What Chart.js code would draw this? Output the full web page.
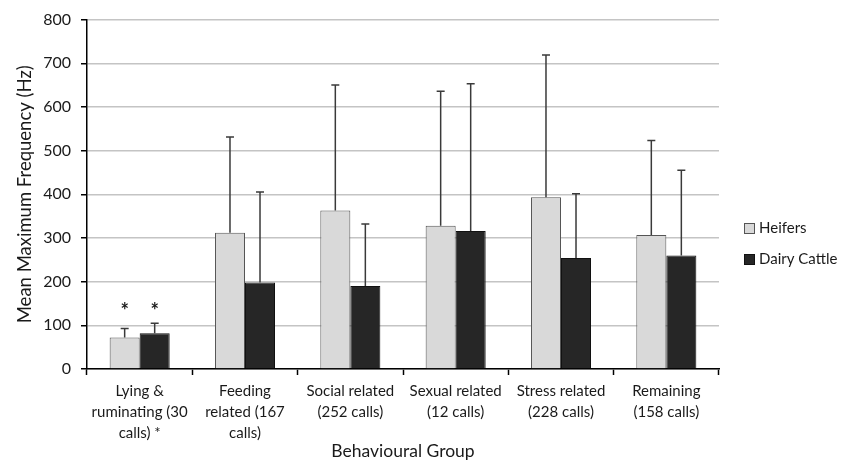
<!DOCTYPE html>
<html>
<head>
<meta charset="utf-8">
<script src="https://cdn.jsdelivr.net/npm/chart.js@4"></script>
<style>
  html, body { margin: 0; padding: 0; background: #fff; }
  #wrap { width: 850px; height: 466px; }
</style>
</head>
<body>
<div id="wrap"><canvas id="chart" width="850" height="466"></canvas></div>
<script>
// categories (multi-line labels as in the figure)
var groups = [
    ['Lying &', 'ruminating (30', 'calls) *'],
    ['Feeding', 'related (167', 'calls)'],
    ['Social related', '(252 calls)'],
    ['Sexual related', '(12 calls)'],
    ['Stress related', '(228 calls)'],
    ['Remaining', '(158 calls)']
];
// mean max frequency (Hz)
var heifers = [72, 312, 363, 328, 393, 307];
var dairyCattle = [82, 198, 190, 316, 254, 260];
// top of the error bars (mean + SD)
var heifersErrTop = [93, 531, 650, 636, 719, 523];
var dairyErrTop = [105, 405, 332, 653, 401, 455];
// significance markers above the bars
var heifersMark = ['*', '', '', '', '', ''];
var dairyMark = ['*', '', '', '', '', ''];
var markValue = 140;

var fontName = 'Lato, "Open Sans", sans-serif';
var textColor = '#1a1a1a';

var errorBars = {
    id: 'errorBars',
    afterDatasetsDraw: function (chart) {
        var ctx = chart.ctx;
        var y = chart.scales.y;
        var tops = [heifersErrTop, dairyErrTop];
        var marks = [heifersMark, dairyMark];
        ctx.save();
        chart.data.datasets.forEach(function (ds, i) {
            var meta = chart.getDatasetMeta(i);
            meta.data.forEach(function (bar, j) {
                var yt = y.getPixelForValue(tops[i][j]);
                ctx.strokeStyle = '#3a3a3a';
                ctx.lineWidth = 1.5;
                ctx.beginPath();
                ctx.moveTo(bar.x, bar.y);
                ctx.lineTo(bar.x, yt);
                ctx.moveTo(bar.x - 4, yt);
                ctx.lineTo(bar.x + 4, yt);
                ctx.stroke();
                if (marks[i][j]) {
                    ctx.fillStyle = textColor;
                    ctx.font = 'bold 20px ' + fontName;
                    ctx.textAlign = 'center';
                    ctx.textBaseline = 'middle';
                    ctx.fillText(marks[i][j], bar.x, y.getPixelForValue(markValue) + 4);
                }
            });
        });
        ctx.restore();
    }
};

// legend drawn by hand so it sits where the original has it
var sideLegend = {
    id: 'sideLegend',
    afterDraw: function (chart) {
        var ctx = chart.ctx;
        var x = chart.chartArea.right + 25;
        var ys = [228, 259];
        ctx.save();
        chart.data.datasets.forEach(function (ds, i) {
            ctx.fillStyle = ds.backgroundColor;
            ctx.fillRect(x, ys[i] - 5, 10, 10);
            ctx.strokeStyle = ds.borderColor;
            ctx.lineWidth = 1;
            ctx.strokeRect(x + 0.5, ys[i] - 4.5, 10, 10);
            ctx.fillStyle = textColor;
            ctx.font = '15px ' + fontName;
            ctx.textAlign = 'left';
            ctx.textBaseline = 'middle';
            ctx.fillText(ds.label, x + 15, ys[i]);
        });
        ctx.restore();
    }
};

var ctx = document.getElementById('chart').getContext('2d');
var chart = new Chart(ctx, {
    type: 'bar',
    data: {
        labels: groups,
        datasets: [{
            label: 'Heifers',
            data: heifers,
            backgroundColor: '#d9d9d9',
            borderColor: '#555',
            borderWidth: 1
        }, {
            label: 'Dairy Cattle',
            data: dairyCattle,
            backgroundColor: '#262626',
            borderColor: '#111',
            borderWidth: 1
        }]
    },
    options: {
        responsive: false,
        animation: false,
        layout: { padding: { top: 17, right: 131, left: 0, bottom: 0 } },
        datasets: {
            bar: { categoryPercentage: 0.57, barPercentage: 1.0 }
        },
        plugins: {
            legend: { display: false },
            tooltip: { enabled: false }
        },
        scales: {
            x: {
                afterFit: function (scale) { scale.height = 97; },
                grid: {
                    drawOnChartArea: false,
                    tickLength: 6,
                    tickColor: '#000',
                    tickWidth: 1.5
                },
                border: { color: '#000', width: 1.5 },
                ticks: {
                    color: textColor,
                    padding: 6,
                    maxRotation: 0,
                    autoSkip: false,
                    font: { family: fontName, size: 15, lineHeight: 1.4 }
                },
                title: {
                    display: true,
                    text: 'Behavioural Group',
                    color: textColor,
                    padding: { top: 4, bottom: 4.5 },
                    font: { family: fontName, size: 17.5 }
                }
            },
            y: {
                min: 0,
                max: 800,
                afterFit: function (scale) { scale.width = 87; },
                grid: {
                    color: '#c4c4c4',
                    lineWidth: 1.5,
                    tickLength: 6,
                    tickColor: '#000',
                    tickWidth: 1.5
                },
                border: { color: '#000', width: 1.5 },
                ticks: {
                    stepSize: 100,
                    color: textColor,
                    padding: 10,
                    font: { family: fontName, size: 16 }
                },
                title: {
                    display: true,
                    text: 'Mean Maximum Frequency (Hz)',
                    color: textColor,
                    padding: { top: 14, bottom: 4 },
                    font: { family: fontName, size: 18.5 }
                }
            }
        }
    },
    plugins: [errorBars, sideLegend]
});
</script>
</body>
</html>
